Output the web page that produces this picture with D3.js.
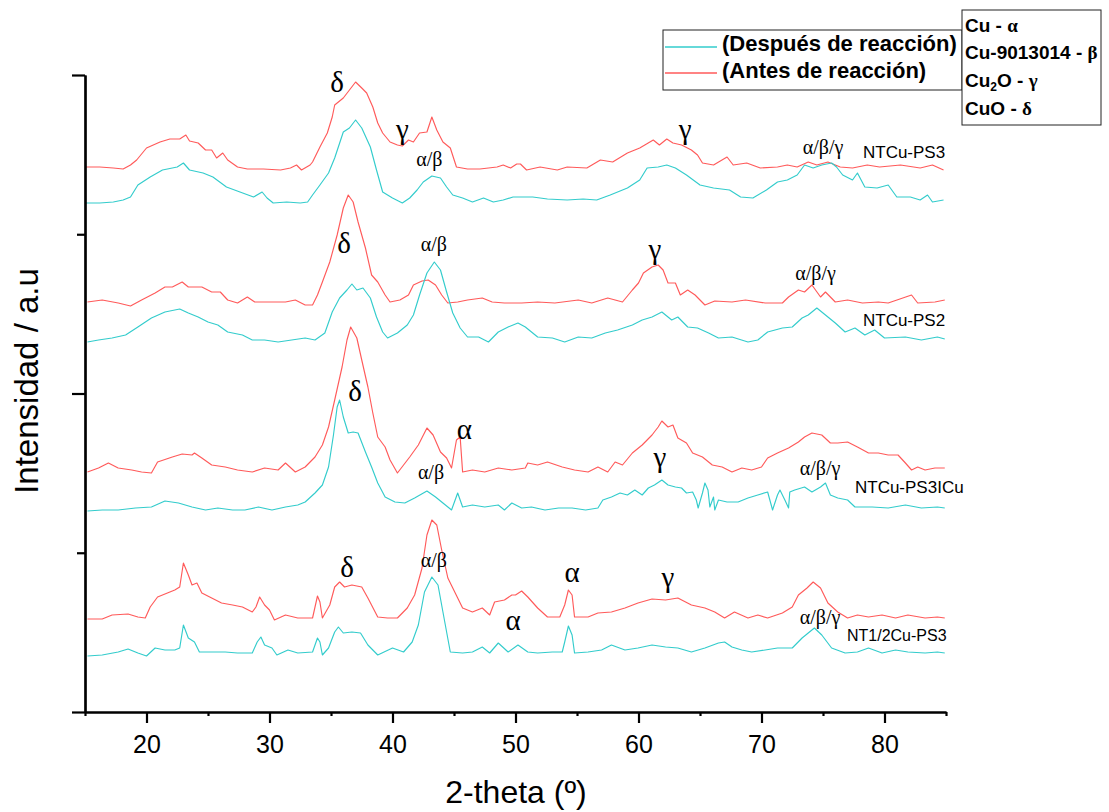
<!DOCTYPE html>
<html><head><meta charset="utf-8">
<script src="https://cdn.jsdelivr.net/npm/d3@7/dist/d3.min.js"></script>
<style>body{margin:0;background:#fff;} svg{display:block}</style>
</head><body><svg id="chart" width="1109" height="812"></svg>
<script>
// ---------- DATA (2-theta in degrees, intensity in arbitrary units) ----------
const xMajorTicks = [20, 30, 40, 50, 60, 70, 80];
const xMinorTicks = [15, 25, 35, 45, 55, 65, 75, 85];
const yDomain = [0, 637];
const yMajorTicks = [0, 318.5, 637];
const yMinorTicks = [159.25, 477.75];

const ps3Antes = [[15.0,545],[16.2,545],[17.3,544],[18.1,543],[18.7,547],[19.2,552],[20.0,564],[21.1,570],[21.9,573],[22.7,573],[23.2,577],[23.5,571],[24.2,569],[24.8,562],[25.3,562],[25.7,554],[26.2,559],[26.6,552],[27.4,545],[28.2,543],[29.5,543],[30.9,542],[31.7,544],[32.2,547],[32.6,542],[33.3,547],[33.5,550],[34.1,565],[34.7,579],[35.1,595],[35.3,607],[36.0,614],[36.5,622],[37.0,630],[37.5,624],[37.9,619],[38.4,605],[38.8,589],[39.2,579],[39.8,570],[40.4,567],[40.8,566],[41.3,572],[41.7,570],[42.2,579],[42.8,580],[43.2,595],[43.6,582],[44.1,570],[44.7,564],[45.2,545],[46.1,543],[47.1,543],[48.5,545],[49.0,547],[49.6,544],[50.1,548],[50.4,548],[50.9,542],[52.0,545],[53.4,542],[54.2,545],[55.8,544],[56.9,552],[57.9,550],[59.1,559],[60.1,564],[61.2,572],[61.7,567],[62.3,573],[62.8,569],[63.5,567],[64.3,562],[64.8,557],[65.2,549],[66.1,547],[67.2,555],[67.7,547],[68.8,549],[69.9,544],[71.3,545],[72.1,547],[72.9,545],[73.8,550],[74.5,547],[75.4,550],[76.4,545],[77.4,544],[78.6,547],[79.6,545],[81.3,547],[82.9,544],[83.9,547],[84.8,542]];
const ps3Despues = [[15.0,509],[16.2,509],[17.3,510],[18.1,512],[18.7,515],[19.3,527],[20.3,535],[21.3,542],[22.5,545],[23.0,549],[23.5,542],[24.6,539],[25.4,535],[26.5,525],[27.6,520],[28.7,515],[29.4,520],[29.8,514],[30.3,509],[31.4,510],[32.5,509],[33.1,510],[33.5,517],[34.1,527],[34.8,539],[35.3,554],[36.0,580],[36.5,584],[37.0,592],[37.5,584],[38.2,565],[38.7,542],[39.2,520],[40.0,514],[40.8,509],[41.4,514],[42.0,522],[42.5,530],[43.2,536],[43.9,534],[44.4,525],[44.9,517],[45.7,514],[46.5,510],[47.4,514],[48.2,510],[49.0,512],[49.8,515],[51.4,515],[52.6,513],[54.2,512],[55.5,513],[56.6,512],[57.7,517],[59.1,524],[60.1,532],[60.7,544],[61.6,545],[62.3,547],[63.0,544],[63.9,537],[65.0,527],[66.1,524],[67.4,522],[68.3,515],[69.3,514],[70.4,522],[71.3,530],[72.1,532],[72.9,537],[73.5,547],[74.2,544],[74.9,547],[75.7,549],[76.1,545],[76.6,537],[77.4,532],[77.8,539],[78.4,525],[79.4,524],[80.3,527],[81.0,515],[82.1,515],[82.9,512],[83.5,517],[83.9,510],[84.8,512]];
const ps2Antes = [[15.2,410],[16.4,412],[17.7,409],[18.7,406],[19.6,412],[20.7,419],[21.5,425],[22.1,425],[22.9,430],[23.4,425],[24.5,425],[25.3,420],[26.0,420],[26.6,412],[27.4,409],[28.2,415],[28.8,410],[30.2,410],[31.3,410],[32.1,412],[32.9,407],[33.5,407],[33.9,417],[34.3,430],[34.9,450],[35.5,477],[36.0,504],[36.4,517],[36.8,510],[37.2,490],[37.8,464],[38.3,437],[38.8,430],[39.4,417],[39.8,410],[40.6,412],[41.3,417],[41.7,427],[42.4,431],[42.9,432],[43.5,427],[44.0,417],[44.5,409],[45.3,410],[46.1,412],[47.3,414],[48.1,410],[49.1,409],[50.5,409],[51.8,410],[53.2,409],[55.1,412],[56.2,409],[57.5,414],[58.7,410],[59.5,422],[60.0,429],[60.4,439],[61.1,445],[61.6,447],[62.0,442],[62.4,429],[63.0,429],[63.4,417],[64.0,422],[64.6,417],[65.4,407],[66.2,411],[67.6,410],[68.7,412],[70.3,409],[71.7,409],[72.2,415],[73.0,422],[73.5,420],[74.1,427],[74.8,415],[75.2,420],[76.0,410],[77.0,412],[78.2,409],[79.5,410],[80.3,409],[82.2,417],[82.7,409],[84.1,410],[84.9,412]];
const ps2Despues = [[15.2,370],[16.1,372],[17.2,374],[18.3,377],[19.3,385],[20.4,394],[21.5,400],[22.7,403],[23.4,399],[24.2,395],[25.0,390],[25.8,387],[26.6,380],[27.8,377],[28.6,372],[29.6,372],[30.7,370],[31.8,372],[32.9,374],[33.7,372],[34.5,379],[35.1,400],[35.7,414],[36.3,422],[36.7,428],[37.1,422],[37.6,424],[38.2,414],[38.7,395],[39.2,380],[39.6,374],[40.4,379],[41.2,387],[41.7,397],[42.2,417],[42.8,439],[43.4,450],[43.9,442],[44.4,420],[44.9,399],[45.5,384],[46.1,375],[47.0,375],[47.8,370],[48.6,380],[49.4,385],[50.2,389],[50.8,385],[51.8,375],[53.0,374],[54.0,370],[55.1,375],[56.2,374],[57.3,379],[58.3,382],[59.5,387],[60.3,392],[61.1,395],[61.9,400],[62.7,392],[63.2,395],[64.0,385],[64.8,384],[65.7,379],[66.5,374],[67.6,375],[68.9,370],[69.7,372],[70.5,380],[71.7,384],[72.5,385],[73.3,394],[73.8,397],[74.5,404],[75.2,397],[76.0,389],[76.8,380],[77.6,384],[78.4,377],[79.2,382],[80.0,374],[81.7,375],[83.0,372],[84.3,375],[84.9,373]];
const ps3icuAntes = [[15.2,240],[16.1,244],[16.9,249],[17.7,244],[18.8,242],[19.6,240],[20.4,239],[20.9,250],[22.1,255],[22.9,258],[23.7,257],[23.9,259],[24.5,254],[25.3,247],[26.4,245],[27.4,242],[28.6,240],[29.6,244],[30.7,242],[31.3,249],[32.1,240],[32.9,245],[33.7,255],[34.3,267],[34.8,285],[35.3,312],[35.9,345],[36.3,372],[36.6,385],[37.1,374],[37.5,352],[38.0,325],[38.4,299],[38.8,275],[39.4,265],[39.8,252],[40.4,239],[40.9,247],[41.4,255],[42.1,267],[42.8,284],[43.3,277],[43.9,260],[44.4,254],[44.8,244],[45.2,272],[45.5,275],[45.7,240],[46.5,242],[47.5,240],[48.6,244],[49.7,242],[50.8,244],[51.0,249],[51.8,247],[52.6,250],[53.8,245],[54.8,242],[55.9,240],[56.7,245],[57.5,240],[58.1,250],[58.7,247],[59.5,259],[60.3,267],[61.1,277],[61.6,285],[61.9,291],[62.4,285],[62.8,287],[63.2,274],[63.9,269],[64.4,259],[65.2,255],[66.0,247],[66.8,245],[67.6,240],[68.4,244],[69.2,242],[70.0,245],[70.5,254],[71.3,259],[72.2,264],[73.0,270],[73.5,275],[74.1,279],[74.9,277],[75.6,269],[76.2,269],[77.0,270],[77.8,265],[78.7,259],[79.5,259],[80.3,257],[81.1,257],[81.7,249],[82.2,242],[82.7,245],[83.3,242],[84.1,244],[84.9,244]];
const ps3icuDespues = [[15.2,201],[16.4,202],[17.7,202],[19.1,204],[20.4,205],[21.5,211],[22.6,209],[23.7,205],[24.8,202],[25.8,204],[27.0,202],[28.0,202],[29.1,205],[30.2,202],[31.3,205],[32.3,207],[32.9,210],[33.7,219],[34.3,227],[34.8,245],[35.2,277],[35.5,305],[35.7,312],[36.0,295],[36.4,279],[36.8,280],[37.2,279],[37.8,260],[38.3,245],[38.8,229],[39.4,215],[40.2,210],[41.0,209],[41.8,214],[42.8,221],[43.5,215],[44.1,209],[44.8,202],[45.3,219],[45.7,205],[46.5,207],[47.5,205],[48.6,207],[49.1,202],[49.7,209],[50.5,204],[51.3,205],[52.4,202],[53.5,204],[54.6,204],[55.7,202],[56.7,204],[57.1,212],[57.8,215],[58.5,219],[59.1,217],[59.7,222],[60.3,217],[60.8,224],[61.3,227],[61.9,232],[62.4,227],[63.0,225],[63.5,224],[63.9,219],[64.4,220],[64.7,212],[64.85,204],[65.2,219],[65.4,229],[65.65,222],[65.8,205],[66.1,215],[66.2,202],[66.5,212],[67.2,210],[68.1,210],[68.9,214],[69.7,217],[70.5,220],[70.9,202],[71.3,217],[71.5,222],[71.9,212],[72.2,204],[72.3,220],[72.7,222],[73.5,225],[74.1,220],[74.8,225],[75.2,229],[75.6,217],[76.2,214],[77.0,212],[77.6,205],[79.0,205],[80.3,204],[81.7,207],[83.0,204],[84.3,205],[84.9,204]];
const nt12Antes = [[15.2,93],[16.4,93],[17.2,97],[18.5,98],[19.3,95],[19.9,94],[20.3,105],[20.9,115],[21.7,119],[22.3,122],[22.7,125],[23.0,149],[23.4,137],[23.7,127],[24.1,129],[24.5,119],[25.3,114],[26.1,109],[27.0,107],[27.8,105],[28.6,100],[28.9,105],[29.2,115],[29.6,107],[30.0,102],[30.4,92],[31.3,97],[32.3,94],[33.5,94],[33.9,116],[34.1,110],[34.3,94],[34.9,107],[35.3,125],[35.7,130],[36.1,125],[36.7,127],[37.5,125],[38.0,114],[38.8,95],[39.6,94],[40.4,94],[41.2,104],[41.8,117],[42.4,144],[42.8,177],[43.2,192],[43.6,187],[44.0,162],[44.5,134],[45.1,119],[45.7,104],[46.5,100],[47.3,104],[47.9,97],[48.3,110],[49.1,112],[49.7,117],[50.0,117],[50.5,121],[51.0,115],[51.8,104],[52.6,95],[53.6,95],[54.0,107],[54.3,122],[54.6,117],[54.8,95],[55.9,95],[56.7,99],[57.8,100],[58.9,104],[59.96,109],[61.1,113],[62.2,112],[63.2,114],[64.3,107],[65.4,104],[66.2,100],[67.0,94],[67.8,100],[68.9,94],[69.7,97],[70.5,94],[71.7,99],[72.5,105],[73.0,117],[73.7,124],[74.2,130],[74.8,124],[75.4,109],[76.2,100],[77.0,94],[77.8,97],[78.7,95],[79.8,97],[80.9,94],[81.9,97],[83.3,94],[84.3,95],[84.9,94]];
const nt12Despues = [[15.2,56],[16.4,57],[17.7,60],[18.5,63],[19.3,59],[20.0,56],[20.7,64],[21.5,62],[22.3,62],[22.7,64],[23.0,87],[23.4,74],[23.9,70],[24.3,60],[25.3,60],[26.4,60],[27.4,59],[28.6,59],[29.0,70],[29.3,75],[29.6,67],[30.2,64],[30.6,57],[31.5,62],[32.3,59],[33.5,60],[33.9,74],[34.1,70],[34.3,57],[34.8,64],[35.3,80],[35.6,85],[36.0,79],[36.7,80],[37.4,79],[38.0,67],[38.8,57],[40.0,64],[40.9,60],[41.6,70],[42.1,87],[42.6,120],[43.2,135],[43.7,127],[44.1,100],[44.7,60],[45.7,59],[46.5,60],[47.3,65],[47.9,59],[48.6,69],[49.4,60],[50.2,67],[51.0,60],[51.8,59],[53.0,60],[53.8,60],[54.0,70],[54.3,86],[54.6,77],[54.8,59],[55.9,60],[57.0,62],[57.8,67],[58.9,62],[59.96,64],[61.1,67],[62.2,65],[63.2,64],[64.3,60],[65.4,64],[66.5,69],[67.0,70],[67.6,65],[68.4,62],[69.2,60],[70.3,62],[71.3,64],[72.5,64],[73.3,74],[73.8,79],[74.3,84],[74.9,77],[75.7,64],[76.8,59],[77.8,60],[78.7,64],[79.8,59],[80.9,62],[81.9,60],[83.3,59],[84.3,60],[84.9,59]];

const sampleNames = ["NTCu-PS3", "NTCu-PS2", "NTCu-PS3ICu", "NT1/2Cu-PS3"];
const sampleLabelAnchors = [[78.25,554],[78.25,386],[77.6,219],[76.95,71]];
const antesSeries = [ps3Antes, ps2Antes, ps3icuAntes, nt12Antes];
const despuesSeries = [ps3Despues, ps2Despues, ps3icuDespues, nt12Despues];

const phaseText = ["δ","γ","α/β","γ","α/β/γ", "δ","α/β","γ","α/β/γ", "δ","α/β","α","γ","α/β/γ", "δ","α/β","α","α","γ","α/β/γ"];
const phaseAnchors = [[35.5,620],[40.8,573],[43.0,546],[63.8,573],[75.0,558],
  [36.06,459],[43.37,461],[61.34,453],[74.4,432],
  [36.95,311],[43.13,233],[45.85,273],[61.75,245],[74.76,237],
  [36.3,135],[43.37,145],[49.8,82],[54.6,130],[62.4,125],[74.76,88]];

const legendNames = ["(Después de reacción)", "(Antes de reacción)"];
const phaseLegend = [["Cu", "", " - ", "α"], ["Cu-9013014", "", " - ", "β"], ["Cu", "2", "O - ", "γ"], ["CuO", "", " - ", "δ"]];

// ---------- DRAWING ----------
const RED = "#ff5a5a", CYAN = "#33cccc";
const svg = d3.select("#chart");
const sans = "'Liberation Sans', Arial, sans-serif";
const serif = "'Liberation Serif', 'Times New Roman', serif";

const x = d3.scaleLinear().domain([15, 85]).range([85, 946]);
const y = d3.scaleLinear().domain(yDomain).range([712, 75]);

const line = d3.line().x(d => x(d[0])).y(d => y(d[1]));

const g = svg.append("g");
antesSeries.forEach(s => g.append("path").datum(s).attr("d", line)
  .attr("fill", "none").attr("stroke", RED).attr("stroke-width", 1.15).attr("stroke-linejoin","round"));
despuesSeries.forEach(s => g.append("path").datum(s).attr("d", line)
  .attr("fill", "none").attr("stroke", CYAN).attr("stroke-width", 1.15).attr("stroke-linejoin","round"));

// axes
function styleAxis(sel) {
  sel.selectAll("path.domain").attr("stroke", "#000").attr("stroke-width", 2.2);
  sel.selectAll(".tick line").attr("stroke", "#000").attr("stroke-width", 2.2);
}
const gxMinor = svg.append("g").attr("transform", "translate(0,712)")
  .call(d3.axisBottom(x).tickValues(xMinorTicks).tickSize(4).tickSizeOuter(0).tickFormat(""));
styleAxis(gxMinor);
const gx = svg.append("g").attr("transform", "translate(0,712)")
  .call(d3.axisBottom(x).tickValues(xMajorTicks).tickSize(11).tickSizeOuter(0).tickPadding(12).tickFormat(d3.format("d")));
styleAxis(gx);
gx.selectAll("text").attr("font-family", sans).attr("font-size", 25).attr("fill", "#000");

const gyMinor = svg.append("g").attr("transform", "translate(85,0)")
  .call(d3.axisLeft(y).tickValues(yMinorTicks).tickSize(8).tickSizeOuter(0).tickFormat(""));
styleAxis(gyMinor);
const gy = svg.append("g").attr("transform", "translate(85,0)")
  .call(d3.axisLeft(y).tickValues(yMajorTicks).tickSize(13).tickSizeOuter(0).tickFormat(""));
styleAxis(gy);

// axis titles
svg.append("text").attr("x", 516).attr("y", 803).attr("text-anchor", "middle")
  .attr("font-family", sans).attr("font-size", 32).text("2-theta (º)");
svg.append("text").attr("transform", "translate(38,381) rotate(-90)").attr("text-anchor", "middle")
  .attr("font-family", sans).attr("font-size", 33).text("Intensidad / a.u");

// phase annotations
phaseText.forEach((t, i) => {
  svg.append("text").attr("x", x(phaseAnchors[i][0])).attr("y", y(phaseAnchors[i][1]))
    .attr("text-anchor", "middle").attr("font-family", serif)
    .attr("font-size", t.length > 1 ? 20 : 29).text(t);
});
// sample names
sampleNames.forEach((t, i) => {
  svg.append("text").attr("x", x(sampleLabelAnchors[i][0])).attr("y", y(sampleLabelAnchors[i][1]))
    .attr("font-family", sans).attr("font-size", i === 3 ? 16 : 17).text(t);
});

// legend 1
const lg = svg.append("g");
lg.append("rect").attr("x", 663).attr("y", 30).attr("width", 299).attr("height", 60)
  .attr("fill", "#fff").attr("stroke", "#222").attr("stroke-width", 1);
[CYAN, RED].forEach((c, i) => {
  const yy = [47, 73][i];
  lg.append("line").attr("x1", 665).attr("x2", 717).attr("y1", yy).attr("y2", yy)
    .attr("stroke", c).attr("stroke-width", 1.3);
  lg.append("text").attr("x", 722).attr("y", [51, 78][i]).attr("font-family", sans)
    .attr("font-weight", "bold").attr("font-size", 22).text(legendNames[i]);
});
// legend 2
const lg2 = svg.append("g");
lg2.append("rect").attr("x", 962).attr("y", 10).attr("width", 139).attr("height", 115)
  .attr("fill", "#fff").attr("stroke", "#222").attr("stroke-width", 1);
phaseLegend.forEach((p, i) => {
  const t = lg2.append("text").attr("x", 965).attr("y", [32, 59, 87, 115][i])
    .attr("font-family", sans).attr("font-weight", "bold").attr("font-size", 19);
  t.append("tspan").text(p[0]);
  if (p[1]) {
    t.append("tspan").attr("font-size", 12).attr("dy", 4).text(p[1]);
    t.append("tspan").attr("dy", -4).text(p[2]);
  } else t.append("tspan").text(p[2]);
  t.append("tspan").attr("font-family", serif).text(p[3]);
});
</script></body></html>
